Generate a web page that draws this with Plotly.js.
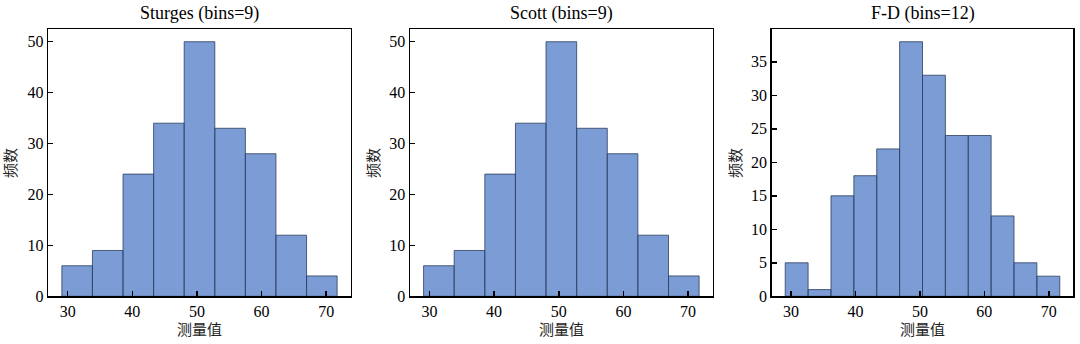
<!DOCTYPE html>
<html><head><meta charset="utf-8">
<script src="https://cdn.plot.ly/plotly-3.0.1.min.js"></script>
<style>html,body{margin:0;padding:0;background:#fff}#c{width:1080px;height:344px}</style>
</head><body><div id="c"></div>
<script>
const titles = ["Sturges (bins=9)", "Scott (bins=9)", "F-D (bins=12)"];
const sturgesEdges = [29.1, 33.83, 38.57, 43.3, 48.03, 52.77, 57.5, 62.23, 66.97, 71.7];
const sturgesCounts = [6, 9, 24, 34, 50, 33, 28, 12, 4];
const scottEdges = [29.1, 33.83, 38.57, 43.3, 48.03, 52.77, 57.5, 62.23, 66.97, 71.7];
const scottCounts = [6, 9, 24, 34, 50, 33, 28, 12, 4];
const fdEdges = [29.1, 32.65, 36.2, 39.75, 43.3, 46.85, 50.4, 53.95, 57.5, 61.05, 64.6, 68.15, 71.7];
const fdCounts = [5, 1, 15, 18, 22, 38, 33, 24, 24, 12, 5, 3];
const xTicks = [30, 40, 50, 60, 70];
const yTicks12 = [0, 10, 20, 30, 40, 50];
const yTicks3 = [0, 5, 10, 15, 20, 25, 30, 35];
const xLabel = "测量值";
const yLabel = "频数";

(function () {
const W = 1080, H = 344;
const panels = [
  {edges: sturgesEdges, counts: sturgesCounts, l: 48.3, r: 350.7, ymax: 52.5, yt: yTicks12, ylx: 10},
  {edges: scottEdges, counts: scottCounts, l: 410, r: 712.7, ymax: 52.5, yt: yTicks12, ylx: 373},
  {edges: fdEdges, counts: fdCounts, l: 771.7, r: 1073.3, ymax: 39.9, yt: yTicks3, ylx: 735}
];
const pTop = 29, pBottom = 296.3;
const font = "Times New Roman, Liberation Serif, DejaVu Serif, serif";
const cjk = "Noto Sans CJK SC, sans-serif";

const data = [], annotations = [];
const layout = {
  width: W, height: H, margin: {l: 0, r: 0, t: 0, b: 0},
  paper_bgcolor: '#fff', plot_bgcolor: '#fff', showlegend: false,
  font: {family: font, size: 14, color: '#000'}, bargap: 0
};
panels.forEach((p, i) => {
  const n = i + 1;
  const sfx = n === 1 ? '' : String(n);
  const xs = [], ws = [];
  for (let k = 0; k < p.counts.length; k++) {
    xs.push((p.edges[k] + p.edges[k + 1]) / 2);
    ws.push(p.edges[k + 1] - p.edges[k]);
  }
  data.push({
    type: 'bar', x: xs, y: p.counts, width: ws,
    xaxis: 'x' + sfx, yaxis: 'y' + sfx,
    marker: {color: 'rgba(68,114,196,0.7)', line: {color: '#2b3d5e', width: 0.8}},
    hoverinfo: 'skip'
  });
  layout['xaxis' + sfx] = {
    domain: [p.l / W, p.r / W], range: [27.0, 73.8],
    anchor: 'y' + sfx,
    tickmode: 'array', tickvals: xTicks, ticks: 'inside', ticklen: 5, tickwidth: 1.5,
    tickcolor: '#000', showline: true, linecolor: '#000', linewidth: 1.5, mirror: true,
    showgrid: false, zeroline: false, tickfont: {family: font, size: 16, color: '#000'}
  };
  layout['yaxis' + sfx] = {
    domain: [1 - pBottom / H, 1 - pTop / H], range: [0, p.ymax],
    anchor: 'x' + sfx,
    tickmode: 'array', tickvals: p.yt, ticks: 'inside', ticklen: 5, tickwidth: 1.5,
    tickcolor: '#000', showline: true, linecolor: '#000', linewidth: 1.5, mirror: true,
    showgrid: false, zeroline: false, tickfont: {family: font, size: 16, color: '#000'}
  };
  annotations.push({
    text: titles[i], xref: 'paper', yref: 'paper', x: (p.l + p.r) / 2 / W, y: 1 - 14 / H,
    xanchor: 'center', yanchor: 'middle', showarrow: false,
    font: {family: font, size: 18, color: '#000', weight: 'normal'}
  });
  annotations.push({
    text: xLabel, xref: 'paper', yref: 'paper', x: (p.l + p.r) / 2 / W, y: 1 - 328 / H,
    xanchor: 'center', yanchor: 'middle', showarrow: false,
    font: {family: cjk, size: 15, color: '#222'}
  });
  annotations.push({
    text: yLabel, xref: 'paper', yref: 'paper', x: p.ylx / W, y: 1 - 163 / H,
    xanchor: 'center', yanchor: 'middle', showarrow: false, textangle: -90,
    font: {family: cjk, size: 15, color: '#222'}
  });
});
layout.annotations = annotations;
Plotly.newPlot('c', data, layout, {displayModeBar: false, staticPlot: true});
})();
</script></body></html>
